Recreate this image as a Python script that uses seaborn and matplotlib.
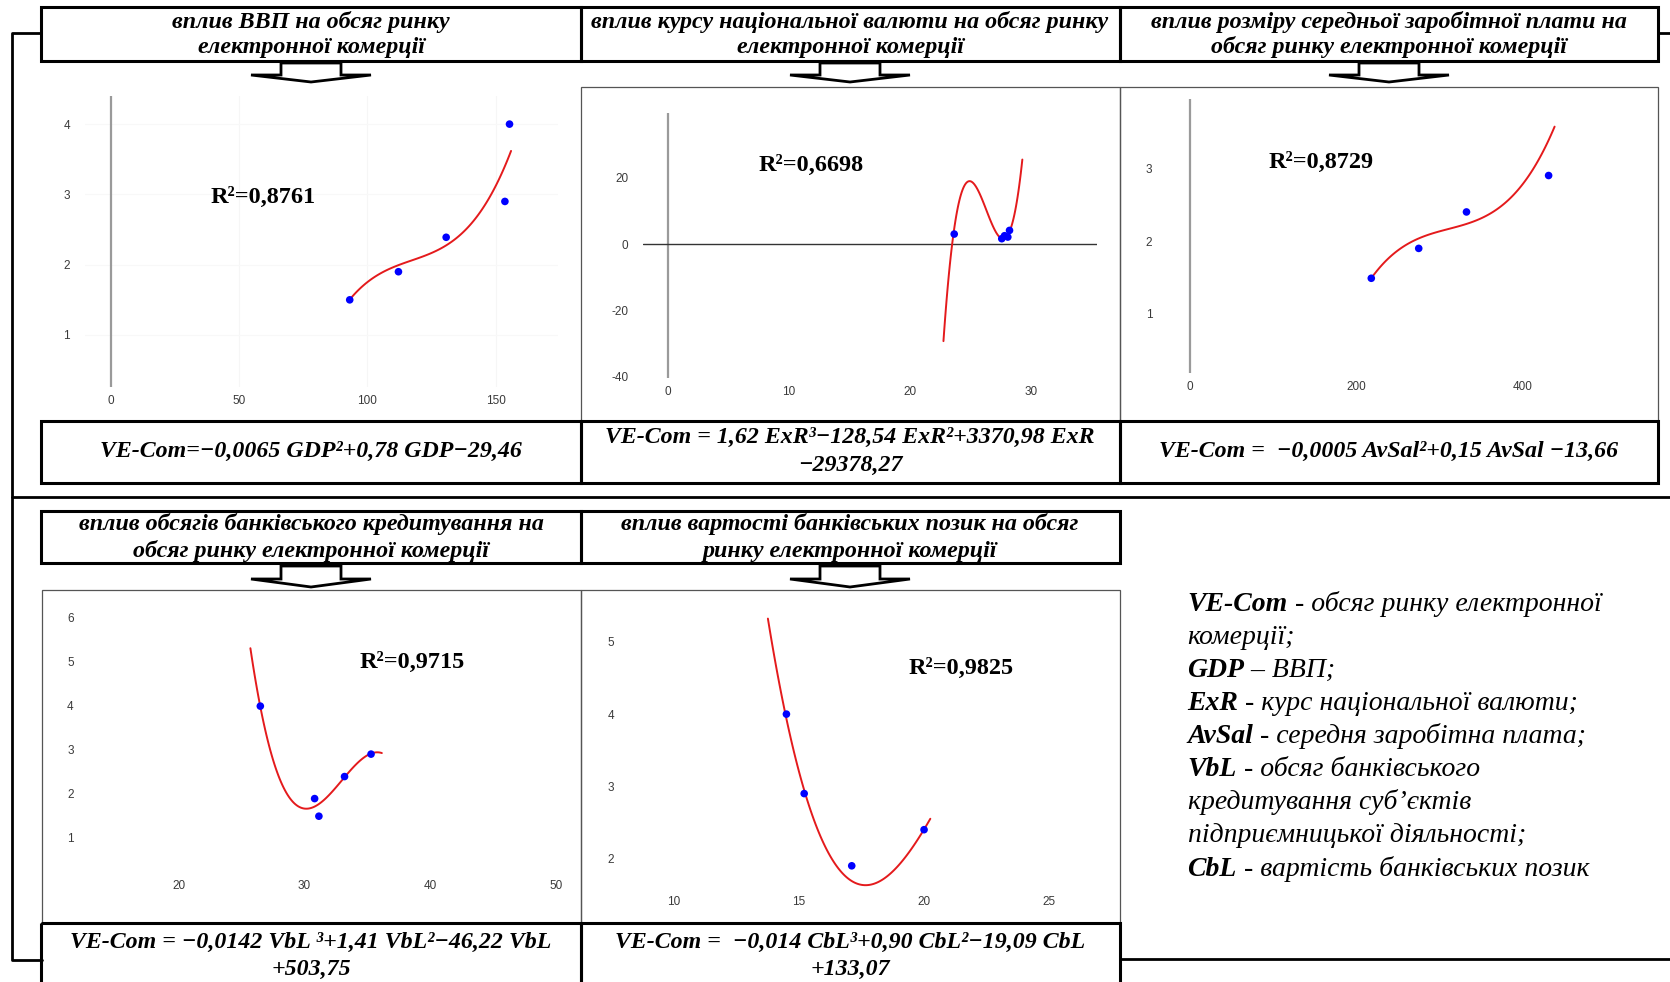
import numpy as np
import pandas as pd
import matplotlib.pyplot as plt
import seaborn as sns
from matplotlib.patches import Rectangle, Polygon

# ---- values ----
# GDP panel
gdp_x = [93.1, 112.1, 130.7, 153.6, 155.4]
gdp_y = [1.50, 1.90, 2.39, 2.90, 4.00]
gdp_curve_x = [93.0, 112.0, 130.7, 143.1, 156.0]
gdp_curve_y = [1.50, 1.99, 2.28, 2.70, 3.62]

# exchange rate panel
exr_x = [23.67, 27.60, 27.83, 28.10, 28.24]
exr_y = [3.0, 1.6, 2.5, 2.1, 4.1]
exr_curve_x = [22.78, 23.46, 24.93, 26.27, 27.61, 28.63, 29.30]
exr_curve_y = [-30.0, 0.0, 18.5, 10.3, 1.8, 9.3, 25.0]

# average salary panel
sal_x = [217.9, 274.9, 332.3, 431.0]
sal_y = [1.49, 1.90, 2.40, 2.90]
sal_curve_x = [217.9, 274.9, 332.3, 377.9, 438.2]
sal_curve_y = [1.49, 2.04, 2.23, 2.52, 3.57]

# bank lending volume panel
vbl_x = [26.50, 30.82, 31.16, 33.20, 35.31]
vbl_y = [3.99, 1.89, 1.49, 2.39, 2.90]
vbl_curve_x = [25.71, 26.50, 28.07, 30.20, 33.20, 35.31, 36.17]
vbl_curve_y = [5.29, 4.00, 2.31, 1.65, 2.39, 2.90, 2.93]

# cost of bank loans panel
cbl_x = [14.50, 15.21, 17.11, 20.00]
cbl_y = [4.00, 2.90, 1.90, 2.40]
cbl_curve_x = [13.76, 14.50, 15.21, 17.72, 20.25]
cbl_curve_y = [5.30, 4.00, 2.90, 1.64, 2.55]

r2_labels = ["R²=0,8761", "R²=0,6698", "R²=0,8729", "R²=0,9715", "R²=0,9825"]

headers = [
    ["вплив ВВП на обсяг ринку", "електронної комерції"],
    ["вплив курсу національної валюти на обсяг ринку", "електронної комерції"],
    ["вплив розміру середньої заробітної плати на", "обсяг ринку електронної комерції"],
    ["вплив обсягів банківського кредитування на", "обсяг ринку електронної комерції"],
    ["вплив вартості банківських позик на обсяг", "ринку електронної комерції"],
]

formulas = [
    ["VE-Com=−0,0065 GDP²+0,78 GDP−29,46"],
    ["VE-Com = 1,62 ExR³−128,54 ExR²+3370,98 ExR", "−29378,27"],
    ["VE-Com =  −0,0005 AvSal²+0,15 AvSal −13,66"],
    ["VE-Com = −0,0142 VbL ³+1,41 VbL²−46,22 VbL", "+503,75"],
    ["VE-Com =  −0,014 CbL³+0,90 CbL²−19,09 CbL", "+133,07"],
]

legend_lines = [
    ("VE-Com", " - обсяг ринку електронної"),
    ("", "комерції;"),
    ("GDP", " – ВВП;"),
    ("ExR", " - курс національної валюти;"),
    ("AvSal", " - середня заробітна плата;"),
    ("VbL", " - обсяг банківського"),
    ("", "кредитування суб’єктів"),
    ("", "підприємницької діяльності;"),
    ("CbL", " - вартість банківських позик"),
]

# ---- style ----
sns.set_theme(style="white")
plt.rcParams["font.family"] = ["Liberation Serif", "DejaVu Serif"]
plt.rcParams["axes.unicode_minus"] = False
plt.rcParams["text.color"] = "black"

W, H = 1670, 982
fig = plt.figure(figsize=(W / 100, H / 100), dpi=100)
fig.patch.set_facecolor("white")

# overlay layer in pixel coordinates (origin top-left), drawn above the panels
bg = fig.add_axes([0, 0, 1, 1])
bg.set_xlim(0, W)
bg.set_ylim(H, 0)
bg.axis("off")
bg.set_zorder(10)


def px_axes(left, top, right, bottom):
    ax = fig.add_axes([left / W, 1 - bottom / H, (right - left) / W, (bottom - top) / H])
    ax.set_facecolor("none")
    for s in ax.spines.values():
        s.set_visible(False)
    return ax


def thick_box(x0, y0, x1, y1, lw=2.2):
    bg.add_patch(Rectangle((x0, y0), x1 - x0, y1 - y0, fill=False, ec="black", lw=lw))


def thin_box(x0, y0, x1, y1):
    bg.add_patch(Rectangle((x0, y0), x1 - x0, y1 - y0, fill=False, ec="#555555", lw=0.9))


def arrow(cx, top, rect_bottom, tip):
    pts = [(cx - 30, top), (cx + 30, top), (cx + 30, rect_bottom), (cx + 60, rect_bottom),
           (cx, tip), (cx - 60, rect_bottom), (cx - 30, rect_bottom)]
    bg.add_patch(Polygon(pts, closed=True, fc="white", ec="black", lw=2.0, zorder=3))


def box_lines(cx, y_first, dy, lines, size):
    for i, line in enumerate(lines):
        bg.text(cx, y_first + i * dy, line, ha="center", va="center", fontsize=size,
                fontweight="bold", fontstyle="italic", color="black")


# ---- frame lines ----
bg.plot([41, 11.5, 11.5, 42], [33, 33, 960, 960], color="black", lw=2.0)
bg.plot([1658, 1670], [33, 33], color="black", lw=2.0)
bg.plot([11.5, 1670], [497, 497], color="black", lw=2.0)
bg.plot([1120, 1670], [959, 959], color="black", lw=2.0)

# header boxes
thick_box(41.3, 7, 580.5, 61)
thick_box(580.5, 7, 1119.6, 61)
thick_box(1119.6, 7, 1658.4, 61)
thick_box(41.3, 511, 580.5, 563)
thick_box(580.5, 511, 1119.6, 563)

# chart frames
thin_box(580.5, 87, 1119.6, 420.7)
thin_box(1119.6, 87, 1658.4, 420.7)
thin_box(42, 590, 580.5, 923.3)
thin_box(580.5, 590, 1119.6, 923.3)

# formula boxes
thick_box(41.3, 420.7, 580.5, 483.3)
thick_box(580.5, 420.7, 1119.6, 483.3)
thick_box(1119.6, 420.7, 1658.4, 483.3)
thick_box(41.3, 923.3, 580.5, 1000)
thick_box(580.5, 923.3, 1119.6, 1000)

# arrows
arrow(311, 63, 75, 82)
arrow(850, 63, 75, 82)
arrow(1389, 63, 75, 82)
arrow(311, 566, 579, 587)
arrow(850, 566, 579, 587)

# header texts
header_pos = [(311, 21.5, 25.5), (850, 21.5, 25.5), (1389, 21.5, 25.5), (311, 524, 27), (850, 524, 27)]
for (cx, y0, dy), lines in zip(header_pos, headers):
    box_lines(cx, y0, dy, lines, 17.3)

# formula texts
formula_pos = [(311, 451.5, 0), (850, 437, 28.5), (1389, 451.5, 0), (311, 942, 27.5), (850, 942, 27.5)]
for (cx, y0, dy), lines in zip(formula_pos, formulas):
    box_lines(cx, y0, dy, lines, 17.2)

# ---- panels ----
panels = [
    dict(box=(85, 96, 558, 387), xlim=(-10.1, 174.3), ylim=(0.26, 4.40),
         xticks=[0, 50, 100, 150], yticks=[1, 2, 3, 4], xpad=5.4, ypad=10.8,
         x=gdp_x, y=gdp_y, cx=gdp_curve_x, cy=gdp_curve_y, vline=True, hline=False, grid=True),
    dict(box=(643, 113, 1097, 378), xlim=(-2.05, 35.47), ylim=(-40.4, 39.5),
         xticks=[0, 10, 20, 30], yticks=[-40, -20, 0, 20], xpad=5.8, ypad=10.4,
         x=exr_x, y=exr_y, cx=exr_curve_x, cy=exr_curve_y, vline=True, hline=True, grid=False),
    dict(box=(1165, 99, 1630, 373), xlim=(-30, 528.8), ylim=(0.19, 3.95),
         xticks=[0, 200, 400], yticks=[1, 2, 3], xpad=5.4, ypad=9.2,
         x=sal_x, y=sal_y, cx=sal_curve_x, cy=sal_curve_y, vline=True, hline=False, grid=False),
    dict(box=(85, 600, 570, 873), xlim=(12.55, 51.14), ylim=(0.2, 6.4),
         xticks=[20, 30, 40, 50], yticks=[1, 2, 3, 4, 5, 6], xpad=5.0, ypad=8.2,
         x=vbl_x, y=vbl_y, cx=vbl_curve_x, cy=vbl_curve_y, vline=False, hline=False, grid=False),
    dict(box=(628, 600, 1110, 890), xlim=(8.17, 27.43), ylim=(1.565, 5.58),
         xticks=[10, 15, 20, 25], yticks=[2, 3, 4, 5], xpad=4.3, ypad=9.9,
         x=cbl_x, y=cbl_y, cx=cbl_curve_x, cy=cbl_curve_y, vline=False, hline=False, grid=False),
]

for p in panels:
    ax = px_axes(*p["box"])
    if p["grid"]:
        for t in p["xticks"][1:]:
            ax.axvline(t, color="#f6f6f6", lw=0.8, zorder=0)
        for t in p["yticks"]:
            ax.axhline(t, color="#f8f8f8", lw=0.8, zorder=0)
    if p["vline"]:
        ax.axvline(0, color="#9a9a9a", lw=1.6, zorder=1)
    if p["hline"]:
        ax.axhline(0, color="#333333", lw=1.0, zorder=1)
    # trend line (cubic, as in the source chart)
    sns.regplot(x=p["cx"], y=p["cy"], order=3, ci=None, scatter=False, truncate=True,
                color="#e41a1c", line_kws={"lw": 1.4, "zorder": 2}, ax=ax)
    sns.scatterplot(x=p["x"], y=p["y"], color="#0000ff", s=30, edgecolor="none", ax=ax, zorder=3)
    ax.set_xlim(*p["xlim"])
    ax.set_ylim(*p["ylim"])
    ax.set_xticks(p["xticks"])
    ax.set_yticks(p["yticks"])
    ax.set_xlabel("")
    ax.set_ylabel("")
    ax.grid(False)
    ax.tick_params(axis="x", length=0, pad=p["xpad"], labelsize=8.5, colors="#3a3a3a")
    ax.tick_params(axis="y", length=0, pad=p["ypad"], labelsize=8.5, colors="#3a3a3a")
    for lab in ax.get_xticklabels() + ax.get_yticklabels():
        lab.set_fontfamily(["Liberation Sans", "DejaVu Sans"])

# R² labels
r2_pos = [(263.5, 197), (810.7, 165.7), (1320.8, 162.3), (412.5, 662), (960.7, 668.3)]
for (x, y), lab in zip(r2_pos, r2_labels):
    bg.text(x, y, lab, ha="center", va="center", fontsize=17.5, fontweight="bold",
            color="black", zorder=5)

# legend text block
y_base = 610.7
for i, (bold, rest) in enumerate(legend_lines):
    yy = y_base + i * 33.1
    if bold:
        t = bg.text(1187.5, yy, bold, fontsize=20, fontweight="bold", fontstyle="italic",
                    va="baseline", ha="left", color="black")
        bg.annotate(rest, xy=(1, 0), xycoords=t, fontsize=20, fontstyle="italic",
                    va="bottom", ha="left", color="black")
    else:
        bg.text(1187.5, yy, rest, fontsize=20, fontstyle="italic", va="baseline", ha="left",
                color="black")

fig.savefig("out.png", dpi=100, facecolor="white")
